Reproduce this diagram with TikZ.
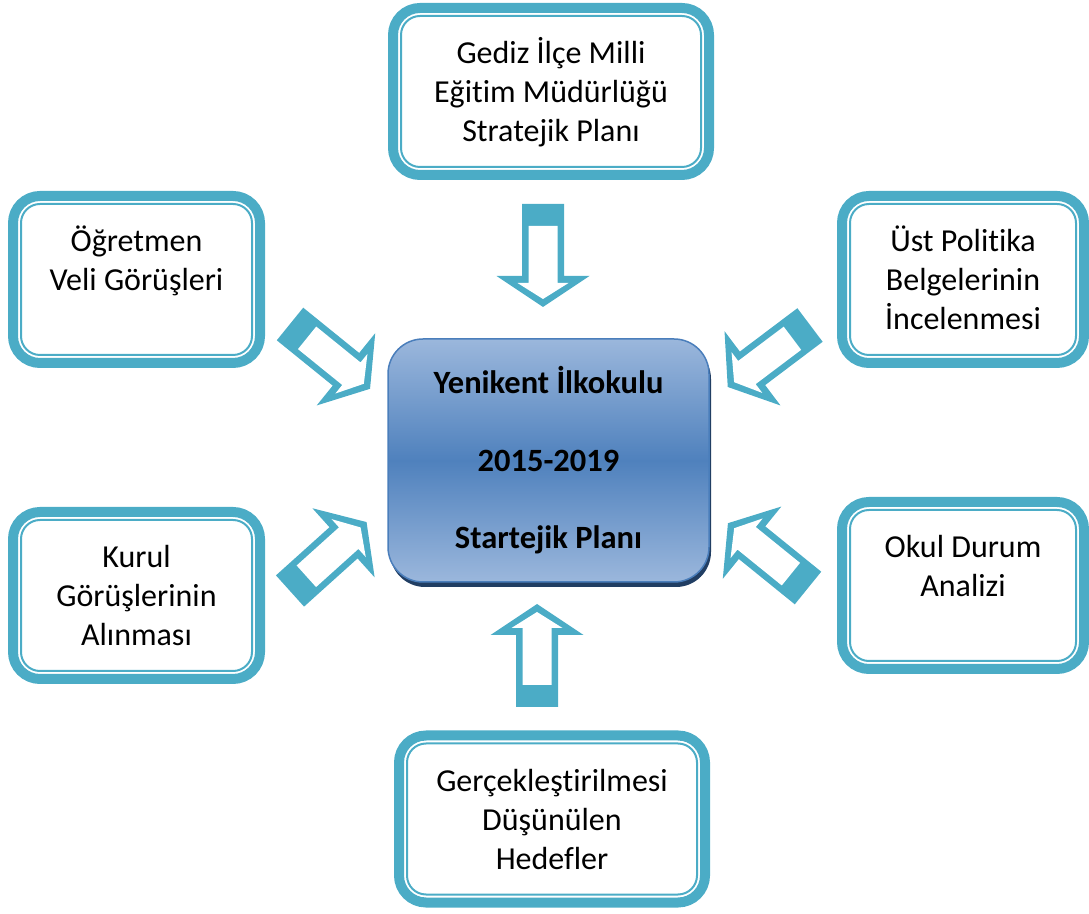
\documentclass[tikz,border=0pt]{standalone}
\usepackage{fontspec}
\setmainfont{Carlito}[Ligatures=NoCommon]
\usetikzlibrary{positioning,calc,shadows}

\definecolor{aqua}{HTML}{4BACC6}
\definecolor{planblue}{HTML}{4F81BD}
\definecolor{planlight}{HTML}{9BB7DC}
\definecolor{planedge}{HTML}{4A7EBB}
\definecolor{planshadow}{HTML}{213E63}

\tikzset{
  boxframe/.style={draw=aqua, line width=10pt, rounded corners=27pt, minimum height=167pt, inner sep=0pt, outer sep=0pt},
  innerline/.style={draw=aqua, line width=2pt, rounded corners=19pt},
  boxtext/.style={align=center, inner sep=0pt, font=\fontsize{32}{39}\selectfont},
  planbox/.style={draw=planedge, line width=1.5pt, rounded corners=35pt, minimum width=321pt, minimum height=243pt,
    top color=planlight, bottom color=planlight, middle color=planblue,
    drop shadow={shadow xshift=2pt, shadow yshift=-5pt, fill=planshadow, opacity=1},
    align=center, font=\bfseries\fontsize{32.5}{39}\selectfont},
  pics/blockarrow/.style={code={
    \fill[aqua] (0,-21) -- (72,-21) -- (72,-46.5) -- (103,0) -- (72,46.5) -- (72,21) -- (0,21) -- cycle;
    \fill[white] (22,-14.5) -- (79,-14.5) -- (79,-25.5) -- (95,0) -- (79,25.5) -- (79,14.5) -- (22,14.5) -- cycle;
  }}
}

\begin{document}
\begin{tikzpicture}[x=1pt,y=1pt]
\useasboundingbox (0,0) rectangle (1089,913);
% outer boxes
\node[boxframe, minimum width=316pt] (gediz) at (551,821.5) {};
\node[boxframe, minimum width=247pt] (ogretmen) at (136.5,633.5) {};
\node[boxframe, minimum width=242pt] (ust) at (963,633.5) {};
\node[boxframe, minimum width=247pt] (kurul) at (136.5,317.5) {};
\node[boxframe, minimum width=242pt] (okul) at (963,327.5) {};
\node[boxframe, minimum width=306pt] (hedef) at (552,94) {};
% thin inner frames
\foreach \b in {gediz,ogretmen,ust,kurul,okul,hedef}
  \draw[innerline] ($(\b.south west)+(8,8)$) rectangle ($(\b.north east)-(8,8)$);
% box texts
\node[boxtext, below=28pt of gediz.north] (gediz-t) {\strut Gediz İlçe Milli\\Eğitim Müdürlüğü\\Stratejik Planı};
\node[boxtext, below=28pt of ogretmen.north] (ogretmen-t) {\strut Öğretmen\\Veli Görüşleri};
\node[boxtext, below=28pt of ust.north] (ust-t) {\strut Üst Politika\\Belgelerinin\\İncelenmesi};
\node[boxtext, below=28pt of kurul.north] (kurul-t) {\strut Kurul\\Görüşlerinin\\Alınması};
\node[boxtext, below=28pt of okul.north] (okul-t) {\strut Okul Durum\\Analizi};
\node[boxtext, below=28pt of hedef.north] (hedef-t) {\strut Gerçekleştirilmesi\\Düşünülen\\Hedefler};
% centre box
\node[planbox] (plan) at (548.5,452.5) {Yenikent İlkokulu\\[38.5pt]2015-2019\\[38.5pt]Startejik Planı};
% block arrows towards the centre
\coordinate (a-gediz) at (543,709);
\coordinate (a-hedef) at (537,206);
\coordinate (a-ogretmen) at (290,589);
\coordinate (a-ust) at (810,588);
\coordinate (a-okul) at (808,325);
\coordinate (a-kurul) at (290,322);
\pic[rotate=-90] at (a-gediz) {blockarrow};
\pic[rotate=90] at (a-hedef) {blockarrow};
\pic[rotate=-39] at (a-ogretmen) {blockarrow};
\pic[rotate=217] at (a-ust) {blockarrow};
\pic[rotate=141] at (a-okul) {blockarrow};
\pic[rotate=42] at (a-kurul) {blockarrow};
\end{tikzpicture}
\end{document}
